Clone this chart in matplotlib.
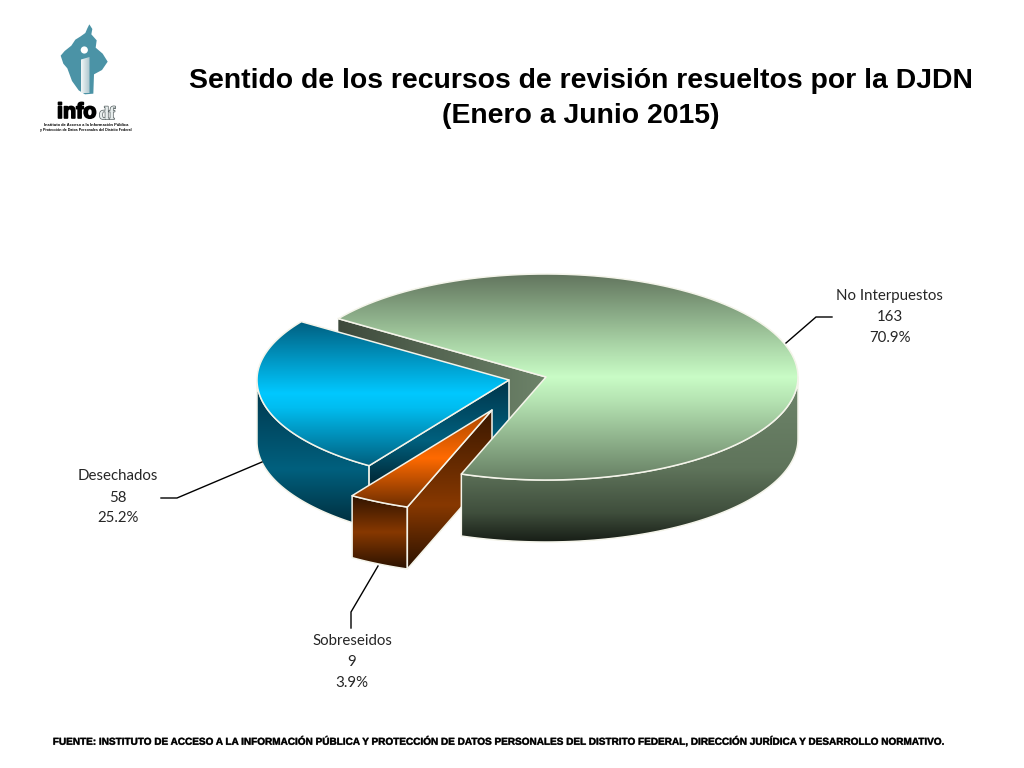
import numpy as np
import matplotlib
matplotlib.use("Agg")
import matplotlib.pyplot as plt
from matplotlib.colors import to_rgb
from matplotlib.patches import Polygon, Circle
import matplotlib.patheffects as pe

# data
categories = ["No Interpuestos", "Sobreseidos", "Desechados"]
values = [163, 9, 58]
title_text = "Sentido de los recursos de revisión resueltos por la DJDN\n(Enero a Junio 2015)"
footer_text = ("FUENTE: INSTITUTO DE ACCESO A LA INFORMACIÓN PÚBLICA Y PROTECCIÓN DE DATOS "
               "PERSONALES DEL DISTRITO FEDERAL, DIRECCIÓN JURÍDICA Y DESARROLLO NORMATIVO.")

# pie geometry (pixels of the page)
CX, CY = 546, 377
A, B = 252, 103
DEPTH = 62
START = 145.5
EDGE = "#f4f4ea"

fig = plt.figure(figsize=(10.24, 7.68), dpi=100)
ax = fig.add_axes([0, 0, 1, 1])


def pt(cx, cy, t):
    t = np.radians(t)
    return np.column_stack([cx + A * np.cos(t), cy - B * np.sin(t)])


def arc(cx, cy, t0, t1):
    return pt(cx, cy, np.linspace(t0, t1, 120))


def fill(verts, stops, g0, g1, horizontal=False, zorder=1, edge=True):
    """polygon filled with a gradient running from g0 to g1 (clamped outside),
    stops = [(frac, color), ...]"""
    verts = np.asarray(verts)
    x0, y0 = verts.min(axis=0)
    x1, y1 = verts.max(axis=0)
    cols = np.array([to_rgb(c) for _, c in stops])
    pos = [p for p, _ in stops]
    lo, hi = (x0, x1) if horizontal else (y0, y1)
    fr = (np.linspace(lo, hi, 256) - g0) / (g1 - g0)
    grad = np.column_stack([np.interp(fr, pos, cols[:, i]) for i in range(3)])
    img = grad[np.newaxis, :, :] if horizontal else grad[:, np.newaxis, :]
    im = ax.imshow(img, extent=[x0, x1, y1, y0], aspect="auto", zorder=zorder,
                   interpolation="bilinear")
    poly = Polygon(verts, closed=True, transform=ax.transData, fc="none", ec="none")
    ax.add_patch(poly)
    im.set_clip_path(poly)
    if edge:
        ax.add_patch(Polygon(verts, closed=True, fc="none", ec=EDGE, lw=1.1,
                             zorder=zorder + 0.01, joinstyle="round"))


def side(cx, cy, t0, t1):
    top = arc(cx, cy, t0, t1)
    return np.vstack([top, top[::-1] + [0, DEPTH]])


# slice angles, clockwise from the start angle, kept in 0..360 below the big slice
spans = np.array(values) / sum(values) * 360
ang = START - np.concatenate([[0], np.cumsum(spans)]) + 360
big_t0, big_t1 = START, ang[1]       # big slice runs 145.5 -> -109.5 (+360)
sob_t1, sob_t0 = ang[1], ang[2]      # 250.5 -> 236.4
des_t1, des_t0 = ang[2], ang[3]      # 236.4 -> 145.7

# exploded slices, offset of the apex
des_x, des_y = CX - 37, CY + 3
sob_x, sob_y = CX - 54, CY + 33

green_top = [(0, "#62755e"), (0.34, "#a9d4a6"), (0.5, "#c9fcc6"), (0.62, "#b4e2b1"), (1, "#667f63")]
green_side = [(0, "#6f866b"), (0.55, "#5f745b"), (0.82, "#3f4e3c"), (1, "#161c15")]
blue_top = [(0, "#005f80"), (0.5, "#00c8ff"), (0.6, "#00bdf0"), (1, "#00607f")]
blue_side = [(0, "#00354a"), (0.6, "#00607e"), (1, "#002c3b")]
orange_top = [(0, "#a84600"), (0.5, "#ff6a00"), (1, "#6e2e00")]
brown_front = [(0, "#2e1300"), (0.5, "#873800"), (1, "#2b1200")]
brown_wall = [(0, "#3a1800"), (0.6, "#873800"), (1, "#2b1200")]

# inner wall of the big slice
a = pt(CX, CY, np.array([big_t0]))[0]
wall = [a, [CX, CY], [CX, CY + DEPTH], a + [0, DEPTH]]
fill(wall, [(0, "#3d493b"), (0.4, "#52624f"), (1, "#6d8369")], a[0], CX,
     horizontal=True, zorder=1, edge=False)
ax.plot([a[0], CX], [a[1], CY], color=EDGE, lw=1.1, zorder=1.1)

# Desechados
d_corner = pt(des_x, des_y, np.array([des_t1]))[0]
fill(side(des_x, des_y, 180, des_t1), blue_side, CY + 5, CY + 150, zorder=2)
fill([[des_x, des_y], d_corner, d_corner + [0, DEPTH], [des_x, des_y + DEPTH]],
     blue_side, des_y, des_y + 100, zorder=2.1)
fill(np.vstack([[[des_x, des_y]], arc(des_x, des_y, des_t0, des_t1)]),
     blue_top, CY - 55, CY + 88, zorder=2.2)

# Sobreseidos
s_left = pt(sob_x, sob_y, np.array([sob_t0]))[0]
s_right = pt(sob_x, sob_y, np.array([sob_t1]))[0]
fill(side(sob_x, sob_y, sob_t0, sob_t1), brown_front, s_left[1], s_right[1] + DEPTH, zorder=3)
fill([[sob_x, sob_y], s_right, s_right + [0, DEPTH], [sob_x, sob_y + DEPTH]],
     brown_wall, sob_y, s_right[1] + DEPTH, zorder=3.1)
fill(np.vstack([[[sob_x, sob_y]], arc(sob_x, sob_y, sob_t0, sob_t1)]),
     orange_top, sob_y, s_right[1], zorder=3.2)

# No Interpuestos on top of everything
fill(side(CX, CY, 360, big_t1), green_side, CY, CY + B + DEPTH + 1, zorder=4)
fill(np.vstack([[[CX, CY]], arc(CX, CY, big_t0 + 360, big_t1)]),
     green_top, CY - B, CY + B, zorder=4.1)

# leader lines
leaders = [([786, 816, 832], [343, 317, 317]),
           ([262, 177, 161], [462, 498, 498]),
           ([378, 351, 351], [566, 612, 628])]
for lx, ly in leaders:
    ax.plot(lx, ly, color="black", lw=1, zorder=5, solid_joinstyle="miter")

# labels
label_pos = [(889.5, [296, 317, 338]), (352, [641, 662, 683]), (118, [476, 498, 518])]
for cat, val, (lx, ys) in zip(categories, values, label_pos):
    pct = val / sum(values) * 100
    for txt, y in zip([cat, str(val), f"{pct:.1f}%"], ys):
        ax.text(lx, y, txt, ha="center", va="center", fontsize=10.8,
                family="Lato", color="#262626")

# title and footer
ax.text(581, 98.5, title_text, ha="center", va="center", fontsize=20.4, fontweight="bold",
        family="Liberation Sans", linespacing=1.45, color="black")
ax.text(496, 741, footer_text, ha="center", va="center", fontsize=7.2, fontweight="bold",
        family="Liberation Sans", color="black",
        path_effects=[pe.withStroke(linewidth=0.4, foreground="#555555")])

# logo
map_outline = np.array([(178, 28), (187, 42), (184, 58), (200, 76), (197, 98), (218, 116),
                        (233, 140), (216, 165), (192, 178), (190, 236), (165, 238), (146, 226),
                        (126, 198), (112, 160), (100, 146), (92, 122), (104, 108), (124, 92),
                        (136, 74), (152, 64), (166, 54), (172, 40)], dtype=float)
map_outline = map_outline / 3 + [30, 15]
ax.add_patch(Polygon(map_outline, closed=True, fc="#4b93a6", ec="none", zorder=6))
ax.add_patch(Circle((84.3, 50), 3.6, fc="white", ec="none", zorder=6.1))
fill(np.array([(81, 59.5), (89.5, 57), (89.5, 93), (81, 93)]),
     [(0, "#f4f8f8"), (1, "#a9c4cc")], 81, 89.5, horizontal=True, zorder=6.2, edge=False)
ax.text(57, 118, "info", ha="left", va="baseline", fontsize=15.5, fontweight="bold",
        family="Liberation Sans", color="black", zorder=7,
        path_effects=[pe.withStroke(linewidth=1.2, foreground="black")])
ax.text(99, 119, "df", ha="left", va="baseline", fontsize=13, fontweight="bold",
        family="Liberation Serif", color="#e8eeee", zorder=7,
        path_effects=[pe.withStroke(linewidth=1.0, foreground="#555f60")])
ax.text(86, 125, "Instituto de Acceso a la Información Pública", ha="center", va="center",
        fontsize=2.9, fontweight="bold", family="Liberation Sans", zorder=7)
ax.text(86, 130.5, "y Protección de Datos Personales del Distrito Federal", ha="center", va="center",
        fontsize=2.6, fontweight="bold", family="Liberation Sans", zorder=7)

ax.set_xlim(0, 1024)
ax.set_ylim(768, 0)
ax.axis("off")
fig.savefig("out.png", dpi=100, facecolor="white")
